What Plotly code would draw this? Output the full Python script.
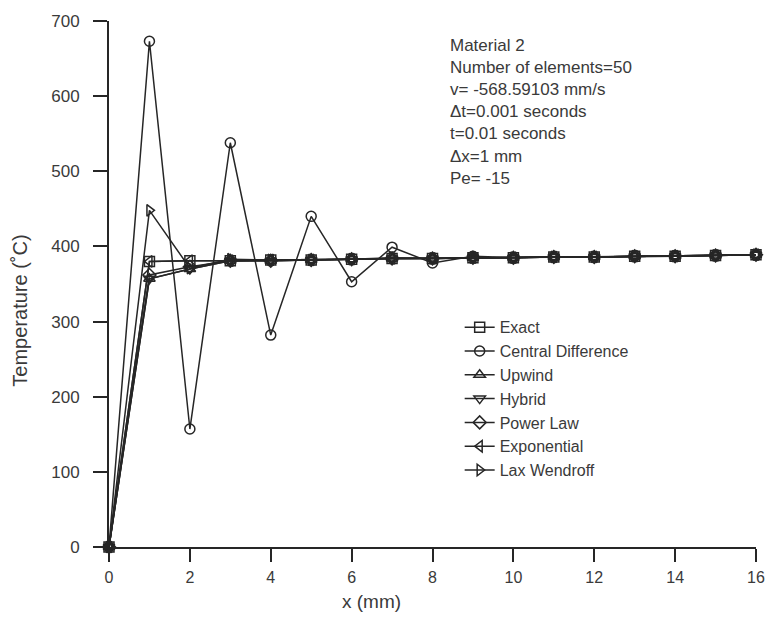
import plotly.graph_objects as go

# ---- data ----
x_mm = [0, 1, 2, 3, 4, 5, 6, 7, 8, 9, 10, 11, 12, 13, 14, 15, 16]
exact = [0, 380, 381, 381, 382, 382, 383, 384, 384, 385, 385, 386, 386, 387, 387, 388, 389]
central = [0, 673, 157, 538, 282, 440, 353, 399, 378, 387, 385, 386, 386, 387, 387, 388, 389]
upwind = [0, 357, 370, 381, 381, 382, 383, 384, 384, 385, 385, 386, 386, 387, 387, 388, 389]
hybrid = [0, 357, 370, 381, 381, 382, 383, 384, 384, 385, 385, 386, 386, 387, 387, 388, 389]
power_law = [0, 362, 373, 381, 381, 382, 383, 384, 384, 385, 385, 386, 386, 387, 387, 388, 389]
exponential = [0, 380, 381, 381, 382, 382, 383, 384, 384, 385, 385, 386, 386, 387, 387, 388, 389]
lax_wendroff = [0, 448, 371, 383, 382, 382, 383, 385, 384, 385, 385, 386, 386, 387, 387, 388, 389]

series_names = ["Exact", "Central Difference", "Upwind", "Hybrid", "Power Law",
                "Exponential", "Lax Wendroff"]
series_values = [exact, central, upwind, hybrid, power_law, exponential, lax_wendroff]
series_symbols = ["square-open", "circle-open", "triangle-up-open", "triangle-down-open",
                  "diamond-open", "triangle-left-open", "triangle-right-open"]

x_ticks = [0, 2, 4, 6, 8, 10, 12, 14, 16]
y_ticks = [0, 100, 200, 300, 400, 500, 600, 700]

info_lines = ["Material 2", "Number of elements=50", "v= -568.59103 mm/s",
              "\u0394t=0.001 seconds", "t=0.01 seconds", "\u0394x=1 mm", "Pe= -15"]

LINE = "#262626"
TEXT = "#3a3a3a"
FONT = "Liberation Sans, Arial, Helvetica, sans-serif"

fig = go.Figure()
for name, vals, sym in zip(series_names, series_values, series_symbols):
    fig.add_trace(go.Scatter(
        x=x_mm, y=vals, name=name, mode="lines+markers",
        line=dict(color=LINE, width=1.5),
        marker=dict(symbol=sym, size=10, color=LINE, line=dict(width=1.5, color=LINE)),
        cliponaxis=False,
    ))

fig.update_layout(
    width=777, height=619,
    margin=dict(l=109, r=13, t=18, b=72),
    paper_bgcolor="white", plot_bgcolor="white",
    font=dict(family=FONT, color=TEXT, size=17),
    showlegend=True,
    legend=dict(x=0.542, y=0.45, xanchor="left", yanchor="top",
                bgcolor="rgba(0,0,0,0)", font=dict(size=16, color=TEXT),
                itemwidth=30),
    annotations=[
        dict(text="<br>".join(info_lines), xref="paper", yref="paper",
             x=0.524, y=0.975, xanchor="left", yanchor="top", align="left",
             showarrow=False, font=dict(size=17, color=TEXT)),
        dict(text="Temperature (\u02daC)", xref="paper", yref="paper",
             x=-0.137, y=0.45, xanchor="center", yanchor="middle", textangle=-90,
             showarrow=False, font=dict(size=20, color=TEXT)),
        dict(text="x (mm)", xref="paper", yref="paper",
             x=0.406, y=-0.104, xanchor="center", yanchor="middle",
             showarrow=False, font=dict(size=19, color=TEXT)),
    ],
)

fig.update_xaxes(range=[0, 16], tickvals=x_ticks, ticktext=[str(v) for v in x_ticks],
                 showline=True, linecolor=LINE, linewidth=2, showgrid=False, zeroline=False,
                 ticks="outside", ticklen=13, tickwidth=1.5, tickcolor=LINE,
                 ticklabelstandoff=2, tickfont=dict(size=16, color=TEXT))
fig.update_yaxes(range=[0, 700], tickvals=y_ticks, ticktext=[str(v) for v in y_ticks],
                 showline=True, linecolor=LINE, linewidth=2, showgrid=False, zeroline=False,
                 ticks="outside", ticklen=14, tickwidth=1.5, tickcolor=LINE,
                 ticklabelstandoff=10, tickfont=dict(size=17, color=TEXT))

fig.write_html("out.html")
